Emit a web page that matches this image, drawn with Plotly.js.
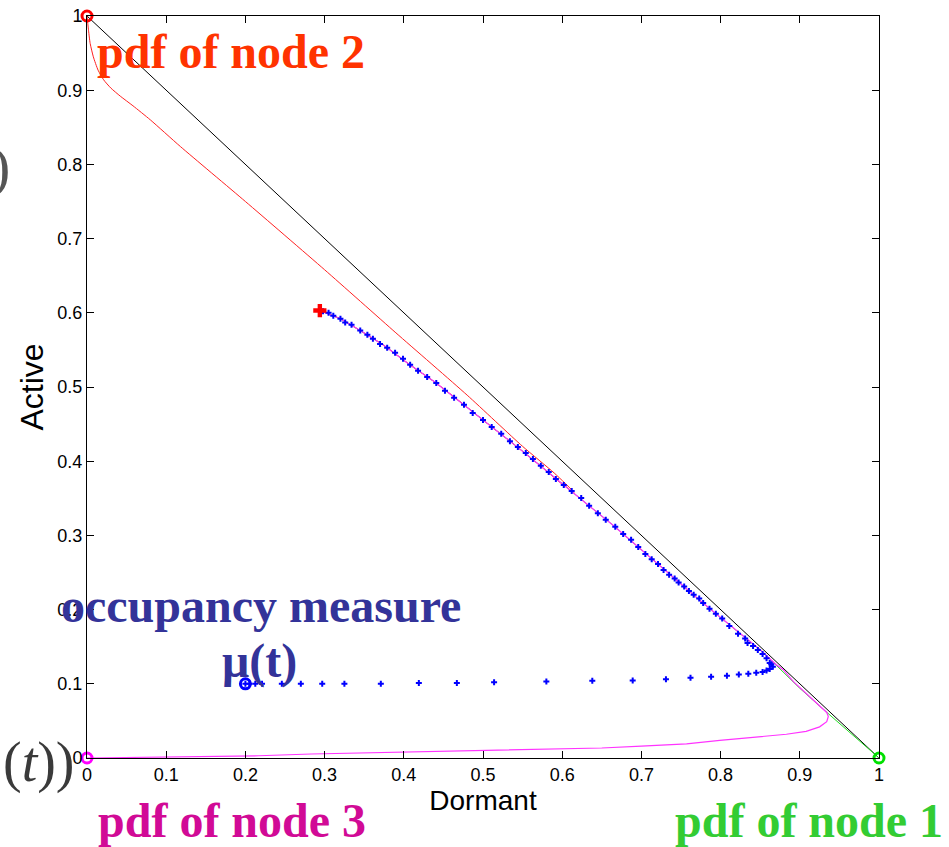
<!DOCTYPE html>
<html>
<head>
<meta charset="utf-8">
<script src="https://cdn.plot.ly/plotly-3.0.1.min.js"></script>
<style>html,body{margin:0;padding:0;background:#fff;}#chart{width:949px;height:847px;}</style>
</head>
<body>
<div id="chart"></div>
<script>
// ---- data ----
const diagX = [0, 1];
const diagY = [1, 0];

// slow curve shared by all trajectories (from the lower-right corner up to the limit point)
const slowX = [0.870, 0.850, 0.830, 0.810, 0.790, 0.770, 0.745, 0.720, 0.695, 0.665, 0.635, 0.600, 0.570, 0.540, 0.510, 0.475, 0.440, 0.405, 0.375, 0.345, 0.320, 0.294];
const slowY = [0.126, 0.146, 0.163, 0.180, 0.198, 0.216, 0.239, 0.262, 0.285, 0.313, 0.339, 0.369, 0.396, 0.422, 0.447, 0.477, 0.506, 0.532, 0.556, 0.576, 0.592, 0.603];

// pdf of node 2 (red), starting at (0,1)
const redX = [0, 0.001, 0.002, 0.004, 0.008, 0.014, 0.021, 0.030, 0.042, 0.058, 0.080, 0.118, 0.200, 0.300, 0.390, 0.480, 0.550, 0.590, 0.615, 0.600];
const redY = [1, 0.990, 0.980, 0.963, 0.945, 0.927, 0.914, 0.903, 0.892, 0.879, 0.860, 0.824, 0.750, 0.658, 0.573, 0.489, 0.420, 0.384, 0.358, 0.369];

// pdf of node 1 (green), starting at (1,0)
const greenX = [1, 0.975, 0.950, 0.925, 0.900, 0.880];
const greenY = [0, 0.023, 0.047, 0.070, 0.094, 0.115];

// pdf of node 3 (magenta), starting at (0,0)
const magX = [0, 0.050, 0.142, 0.217, 0.283, 0.353, 0.419, 0.500, 0.568, 0.650, 0.700, 0.757, 0.799, 0.841, 0.883, 0.908, 0.925, 0.934, 0.936, 0.934, 0.925, 0.915, 0.904, 0.892, 0.879];
const magY = [0, 0.0005, 0.0015, 0.003, 0.0054, 0.0071, 0.0089, 0.0102, 0.0116, 0.0135, 0.016, 0.019, 0.0237, 0.028, 0.032, 0.036, 0.042, 0.049, 0.056, 0.0614, 0.0704, 0.081, 0.092, 0.103, 0.119];

// occupancy measure mu(t) (blue dots)
const muOutX = [0.200, 0.205, 0.2125, 0.221, 0.246, 0.270, 0.297, 0.325, 0.371, 0.419, 0.467, 0.514, 0.580, 0.638, 0.689, 0.731, 0.762, 0.788, 0.808, 0.823, 0.835, 0.845, 0.853, 0.858, 0.862, 0.866];
const muOutY = [0.100, 0.100, 0.100, 0.100, 0.100, 0.100, 0.100, 0.100, 0.100, 0.101, 0.101, 0.102, 0.103, 0.104, 0.1045, 0.106, 0.108, 0.1095, 0.111, 0.1126, 0.1135, 0.115, 0.116, 0.118, 0.120, 0.123];
const muBackX = [0.864, 0.862, 0.858, 0.853, 0.847, 0.841, 0.834, 0.831, 0.822, 0.811, 0.802, 0.794, 0.786, 0.778, 0.773, 0.766, 0.760, 0.754, 0.747, 0.742, 0.735, 0.728, 0.721, 0.713, 0.705, 0.696, 0.687, 0.677, 0.667, 0.655, 0.645, 0.634, 0.624, 0.612, 0.602, 0.592, 0.583, 0.573, 0.563, 0.554, 0.544, 0.534, 0.523, 0.511, 0.500, 0.487, 0.476, 0.4635, 0.452, 0.441, 0.4295, 0.418, 0.408, 0.399, 0.389, 0.379, 0.370, 0.361, 0.354, 0.345, 0.334, 0.326, 0.320, 0.311, 0.305, 0.298];
const muBackY = [0.1265, 0.128, 0.1345, 0.140, 0.1455, 0.151, 0.155, 0.161, 0.1675, 0.178, 0.188, 0.1945, 0.201, 0.209, 0.215, 0.220, 0.225, 0.231, 0.2365, 0.242, 0.247, 0.2535, 0.2615, 0.268, 0.275, 0.2845, 0.294, 0.302, 0.3115, 0.321, 0.330, 0.340, 0.3505, 0.360, 0.368, 0.376, 0.3855, 0.394, 0.403, 0.411, 0.419, 0.427, 0.437, 0.446, 0.4555, 0.465, 0.476, 0.4855, 0.495, 0.5055, 0.5135, 0.522, 0.530, 0.538, 0.546, 0.553, 0.558, 0.565, 0.5705, 0.576, 0.584, 0.587, 0.592, 0.596, 0.600, 0.602];

// special points
const startPtsX = [0, 1, 0, 0.2];
const startPtsY = [1, 0, 0, 0.1];
const startColors = ['#ff0000', '#00e000', '#ff00ff', '#0000ff'];
const limitX = [0.294];
const limitY = [0.603];

const tickVals = [0, 0.1, 0.2, 0.3, 0.4, 0.5, 0.6, 0.7, 0.8, 0.9, 1];
const tickText = ['0', '0.1', '0.2', '0.3', '0.4', '0.5', '0.6', '0.7', '0.8', '0.9', '1'];

// ---- build traces ----
const redTailX = slowX.filter(v => v < 0.6);
const redTailY = slowY.slice(slowX.length - redTailX.length);

const traces = [
  {x: diagX, y: diagY, mode: 'lines', line: {color: '#000000', width: 1}, hoverinfo: 'skip'},
  {x: redX.concat(redTailX), y: redY.concat(redTailY), mode: 'lines', line: {color: '#ff2020', width: 1, shape: 'spline', smoothing: 0.6}, hoverinfo: 'skip'},
  {x: greenX.concat(slowX), y: greenY.concat(slowY), mode: 'lines', line: {color: '#22dd22', width: 1}, hoverinfo: 'skip'},
  {x: magX.concat(slowX), y: magY.concat(slowY), mode: 'lines', line: {color: '#ff33ff', width: 1.2}, hoverinfo: 'skip'},
  {x: muOutX.concat(muBackX), y: muOutY.concat(muBackY), mode: 'markers',
   marker: {symbol: 'cross', size: 5, color: '#0000ff', line: {width: 0}}, hoverinfo: 'skip'},
  {x: startPtsX, y: startPtsY, mode: 'markers', cliponaxis: false,
   marker: {symbol: 'circle-open', size: 10, color: startColors, line: {width: 3, color: startColors}}, hoverinfo: 'skip'},
  {x: limitX, y: limitY, mode: 'markers', cliponaxis: false,
   marker: {symbol: 'cross', size: 11, color: '#ff0000', line: {width: 0}}, hoverinfo: 'skip'}
];

const serifBold = 'Liberation Serif, Times New Roman, serif';
const layout = {
  width: 949, height: 847,
  margin: {l: 87, r: 70, t: 16, b: 89},
  paper_bgcolor: '#ffffff', plot_bgcolor: '#ffffff',
  showlegend: false,
  font: {family: 'Liberation Sans, Arial, sans-serif', color: '#000000'},
  xaxis: {
    range: [0, 1], tickvals: tickVals, ticktext: tickText,
    ticks: 'inside', ticklen: 7, tickcolor: '#000', showline: true, linecolor: '#000', linewidth: 1,
    mirror: 'ticks', showgrid: false, zeroline: false,
    tickfont: {size: 18, color: '#000'},
    title: {text: 'Dormant', font: {size: 28, color: '#000'}, standoff: 0}
  },
  yaxis: {
    range: [0, 1], tickvals: tickVals, ticktext: tickText,
    ticks: 'inside', ticklen: 7, tickcolor: '#000', showline: true, linecolor: '#000', linewidth: 1,
    mirror: 'ticks', showgrid: false, zeroline: false,
    tickfont: {size: 18, color: '#000'},
    title: {text: 'Active', font: {size: 32, color: '#000'}, standoff: 4}
  },
  annotations: [
    {xref: 'paper', yref: 'paper', x: 0.1824, y: 0.9515, xanchor: 'center', yanchor: 'middle', showarrow: false,
     text: '<b>pdf of node 2</b>', font: {family: serifBold, size: 48, color: '#ff3300'}},
    {xref: 'paper', yref: 'paper', x: 0.2203, y: 0.2049, xanchor: 'center', yanchor: 'middle', showarrow: false,
     text: '<b>occupancy measure</b>', font: {family: serifBold, size: 48, color: '#333399'}},
    {xref: 'paper', yref: 'paper', x: 0.2172, y: 0.1307, xanchor: 'center', yanchor: 'middle', showarrow: false,
     text: '<b>μ(t)</b>', font: {family: serifBold, size: 48, color: '#333399'}},
    {xref: 'paper', yref: 'paper', x: 0.1837, y: -0.0849, xanchor: 'center', yanchor: 'middle', showarrow: false,
     text: '<b>pdf of node 3</b>', font: {family: serifBold, size: 48, color: '#d10a96'}},
    {xref: 'paper', yref: 'paper', x: 0.911, y: -0.0836, xanchor: 'center', yanchor: 'middle', showarrow: false,
     text: '<b>pdf of node 1</b>', font: {family: serifBold, size: 48, color: '#33cc33'}},
    {xref: 'paper', yref: 'paper', x: -0.0600, y: -0.0054, xanchor: 'center', yanchor: 'middle', showarrow: false,
     text: '(<i>t</i>))', font: {family: serifBold, size: 56, color: '#3a3a3a'}},
    {xref: 'paper', yref: 'paper', x: -0.0947, y: 0.7965, xanchor: 'right', yanchor: 'middle', showarrow: false,
     text: ')', font: {family: serifBold, size: 58, color: '#555555'}}
  ]
};

Plotly.newPlot('chart', traces, layout, {staticPlot: true, displayModeBar: false});
</script>
</body>
</html>
